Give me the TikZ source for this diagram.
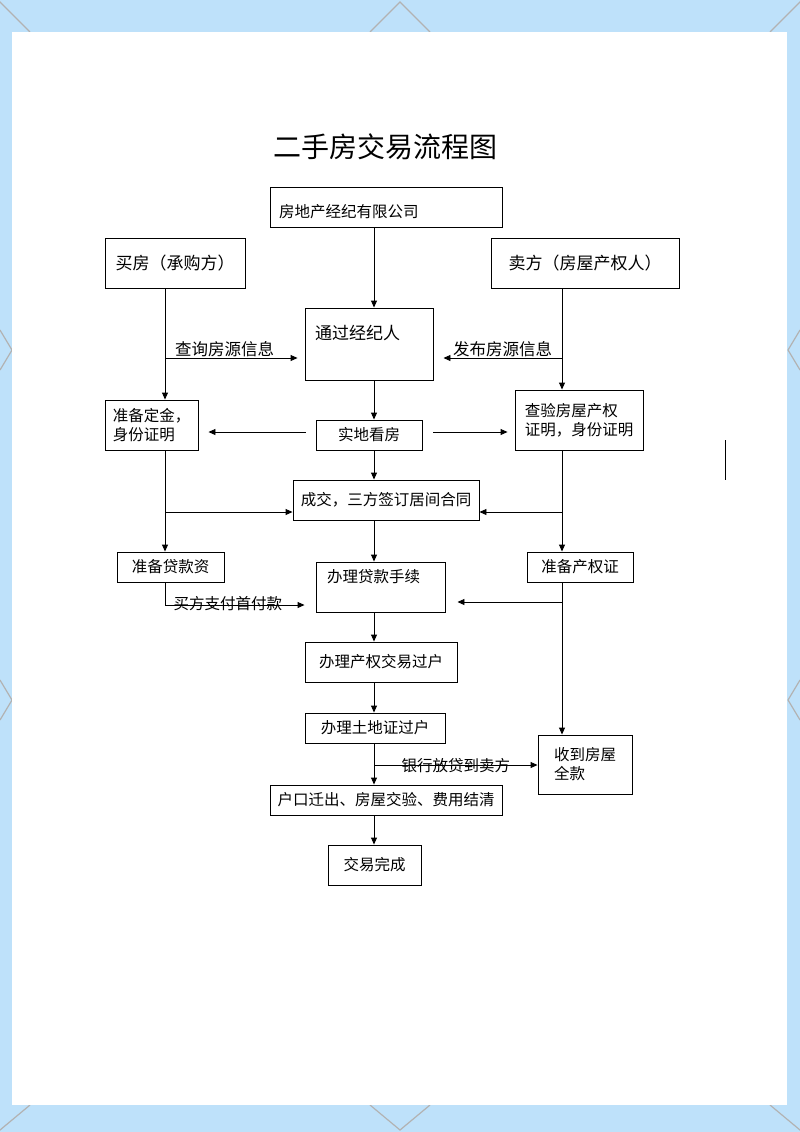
\documentclass[tikz,border=0pt]{standalone}
\usepackage{fontspec}
\setmainfont{Noto Sans CJK SC}
\usetikzlibrary{arrows.meta, calc, positioning}
\definecolor{pageblue}{RGB}{190,225,250}

\tikzset{
  box/.style={draw, line width=0.9pt, fill=white, inner sep=2pt, font=\fontsize{15.5}{19}\selectfont, align=left},
  flow/.style={line width=0.9pt, -{Triangle[length=7pt,width=6pt]}},
  line/.style={line width=0.9pt},
  tag/.style={font=\fontsize{15.5}{17}\selectfont, inner sep=1pt}
}

\begin{document}
\begin{tikzpicture}[x=1pt,y=-1pt]
\useasboundingbox (0,0) rectangle (800,1132);
% background page
\fill[pageblue] (0,0) rectangle (800,1132);
\foreach \x in {0,400,800} {
  \draw[gray!60, line width=1.2pt] (\x-30,32) -- (\x,2) -- (\x+30,32);
  \draw[gray!60, line width=1.2pt] (\x-30,1105) -- (\x,1130) -- (\x+30,1105);
}
\foreach \y in {350,700} {
  \draw[gray!60, line width=1.2pt] (0,\y-20) -- (12,\y) -- (0,\y+20);
  \draw[gray!60, line width=1.2pt] (800,\y-20) -- (788,\y) -- (800,\y+20);
}
\fill[white] (12,32) rectangle (787,1105);

% title
\node[font=\fontsize{28}{30}\selectfont] (title) at (385,147) {二手房交易流程图};

% boxes
\node[box, minimum width=232, minimum height=40] (agency) at (386,207) {};
\node[tag, anchor=west] at (278,212) {房地产经纪有限公司};
\node[box, minimum width=140, minimum height=50, font=\fontsize{17}{20}\selectfont] (buyer) at (175,263) {买房（承购方）};
\node[box, minimum width=188, minimum height=50, font=\fontsize{17}{20}\selectfont] (seller) at (585,263) {卖方（房屋产权人）};
\node[box, minimum width=128, minimum height=72] (broker) at (369,344) {};
\node[tag, anchor=west, font=\fontsize{17}{20}\selectfont] at (314,333) {通过经纪人};
\node[box, minimum width=93, minimum height=50] (deposit) at (151.5,425) {准备定金，\\身份证明};
\node[box, minimum width=106, minimum height=30] (viewing) at (369,435) {实地看房};
\node[box, minimum width=128, minimum height=60] (verify) at (579,420) {查验房屋产权\\证明，身份证明};
\node[box, minimum width=186, minimum height=40] (deal) at (386,500) {成交，三方签订居间合同};
\node[box, minimum width=107, minimum height=30] (loanprep) at (170.5,567) {准备贷款资};
\node[box, minimum width=129, minimum height=50] (loan) at (380.5,587) {};
\node[tag, anchor=west] at (326,577) {办理贷款手续};
\node[box, minimum width=106, minimum height=30] (deed) at (580,567) {准备产权证};
\node[box, minimum width=152, minimum height=40] (transfer) at (381,662) {办理产权交易过户};
\node[box, minimum width=140, minimum height=30] (land) at (375,728) {办理土地证过户};
\node[box, minimum width=94, minimum height=59] (received) at (585,764.5) {收到房屋\\全款};
\node[box, minimum width=232, minimum height=30] (final) at (386,800) {户口迁出、房屋交验、费用结清};
\node[box, minimum width=93, minimum height=40] (done) at (374.5,865) {交易完成};

% junctions
\coordinate (jb) at (165,358);
\coordinate (js) at (562,358);
\coordinate (jdl) at (165,512);
\coordinate (jdr) at (562,512);
\coordinate (jl) at (165,605);
\coordinate (jr) at (562,602);
\coordinate (jc) at (374,765);

% connectors
\draw[flow] (agency.south -| broker) ++(5,0) coordinate (a1) -- (a1 |- broker.north);
\draw[flow] (buyer.south -| jb) -- (jb |- deposit.north);
\draw[flow] (jb) -- node[tag, above, pos=0.45, font=\fontsize{16.5}{18}\selectfont] {查询房源信息} ($(broker.west)+(-7,14)$);
\draw[flow] (seller.south -| js) -- (js |- verify.north);
\draw[flow] (js) -- node[tag, above, pos=0.5, font=\fontsize{16.5}{18}\selectfont] {发布房源信息} ($(broker.east)+(10,14)$);
\draw[flow] (broker.south -| viewing) ++(5,0) coordinate (a2) -- (a2 |- viewing.north);
\draw[flow] ($(viewing.west)+(-10,-3)$) -- ($(deposit.east)+(10,7)$);
\draw[flow] ($(viewing.east)+(11,-3)$) -- ($(verify.west)+(-7,12)$);
\draw[flow] (viewing.south -| a2) -- (a2 |- deal.north);
\draw[flow] (deposit.south -| jdl) -- (jdl |- loanprep.north);
\draw[flow] (jdl) -- (jdl -| deal.west);
\draw[flow] (verify.south -| jdr) -- (jdr |- deed.north);
\draw[flow] (jdr) -- (jdr -| deal.east);
\draw[flow] (deal.south -| a2) -- (a2 |- loan.north);
\draw[line] (loanprep.south -| jl) -- (jl);
\draw[flow] (jl) -- node[tag, pos=0.45, yshift=1pt] {买方支付首付款} ($(jl -| loan.west)+(-11,0)$);
\draw[flow] (deed.south -| jr) -- (jr |- received.north);
\draw[flow] (jr) -- ($(jr -| loan.east)+(12,0)$);
\draw[flow] (loan.south -| a2) -- (a2 |- transfer.north);
\draw[flow] (transfer.south -| a2) -- (a2 |- land.north);
\draw[flow] (land.south -| jc) -- (jc |- final.north);
\draw[flow] (jc) -- node[tag, pos=0.5, yshift=-1pt] {银行放贷到卖方} (jc -| received.west);
\draw[flow] (final.south -| a2) -- (a2 |- done.north);

% stray mark
\draw[line] (725,440) -- (725,480);
\end{tikzpicture}
\end{document}
